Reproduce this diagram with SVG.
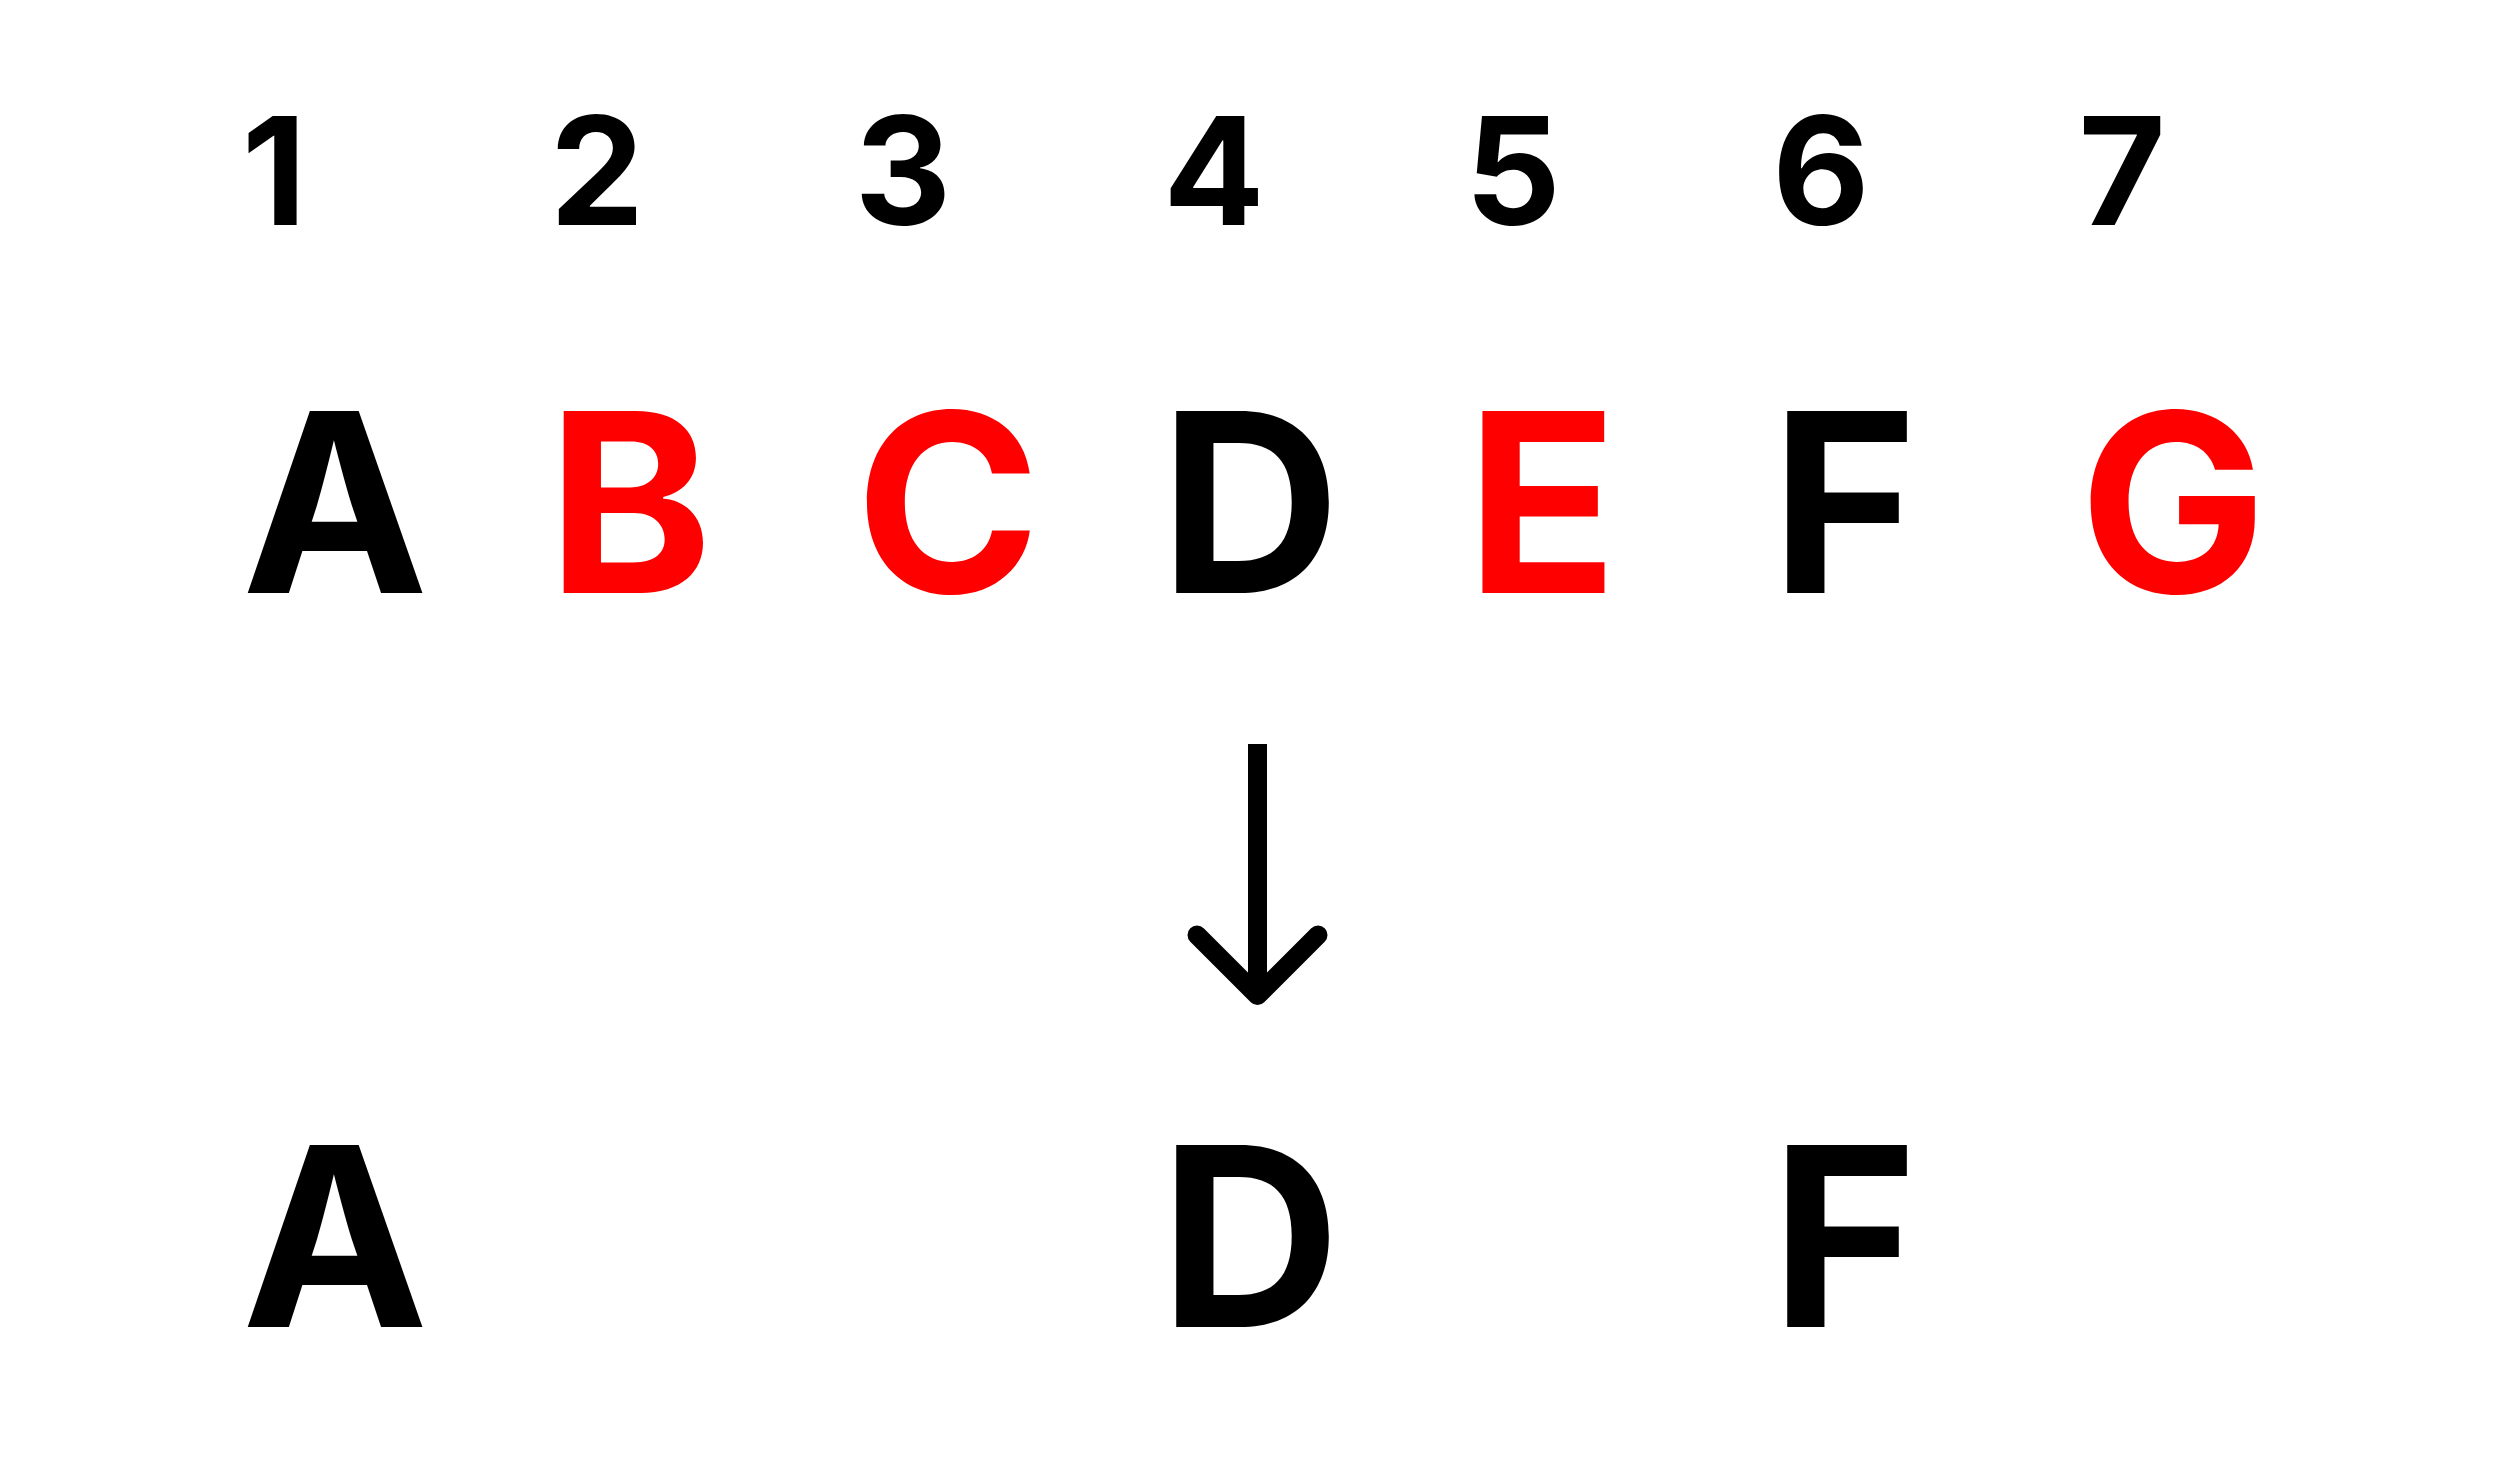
<svg xmlns="http://www.w3.org/2000/svg" width="2516" height="1466" viewBox="0 0 2516 1466">
<style>
text{font-family:Inter,"Noto Sans","Liberation Sans",sans-serif;font-weight:700;text-anchor:middle}
.num{font-size:150px;fill:#000}
.let{font-size:250px}
.k{fill:#000}
.r{fill:#FF0000}
.arrow{fill:none;stroke:#000;stroke-width:19;stroke-linejoin:round}
</style>
<rect width="2516" height="1466" fill="#fff"/>
<g id="numbers">
<g id="n1"><text class="num" x="274" y="225">1</text></g>
<g id="n2"><text class="num" x="597" y="225">2</text></g>
<g id="n3"><text class="num" x="903" y="225">3</text></g>
<g id="n4"><text class="num" x="1214" y="225">4</text></g>
<g id="n5"><text class="num" x="1513" y="225">5</text></g>
<g id="n6"><text class="num" x="1821" y="225">6</text></g>
<g id="n7"><text class="num" x="2122" y="225">7</text></g>
</g>
<g id="top-row">
<g id="A"><text class="let k" x="335" y="593">A</text></g>
<g id="B"><text class="let r" x="630" y="593">B</text></g>
<g id="C"><text class="let r" x="948" y="593">C</text></g>
<g id="D"><text class="let k" x="1250" y="593">D</text></g>
<g id="E"><text class="let r" x="1542" y="593">E</text></g>
<g id="F"><text class="let k" x="1844" y="593">F</text></g>
<g id="G"><text class="let r" x="2173" y="593">G</text></g>
</g>
<g id="connectors">
<path class="arrow" d="M1257.5 744 V994"/>
<path class="arrow" d="M1197 935 L1257.5 995.5 L1318 935" stroke-linecap="round"/>
</g>
<g id="bottom-row">
<g id="A2"><text class="let k" x="335" y="1327">A</text></g>
<g id="D2"><text class="let k" x="1250" y="1327">D</text></g>
<g id="F2"><text class="let k" x="1844" y="1327">F</text></g>
</g>
</svg>
